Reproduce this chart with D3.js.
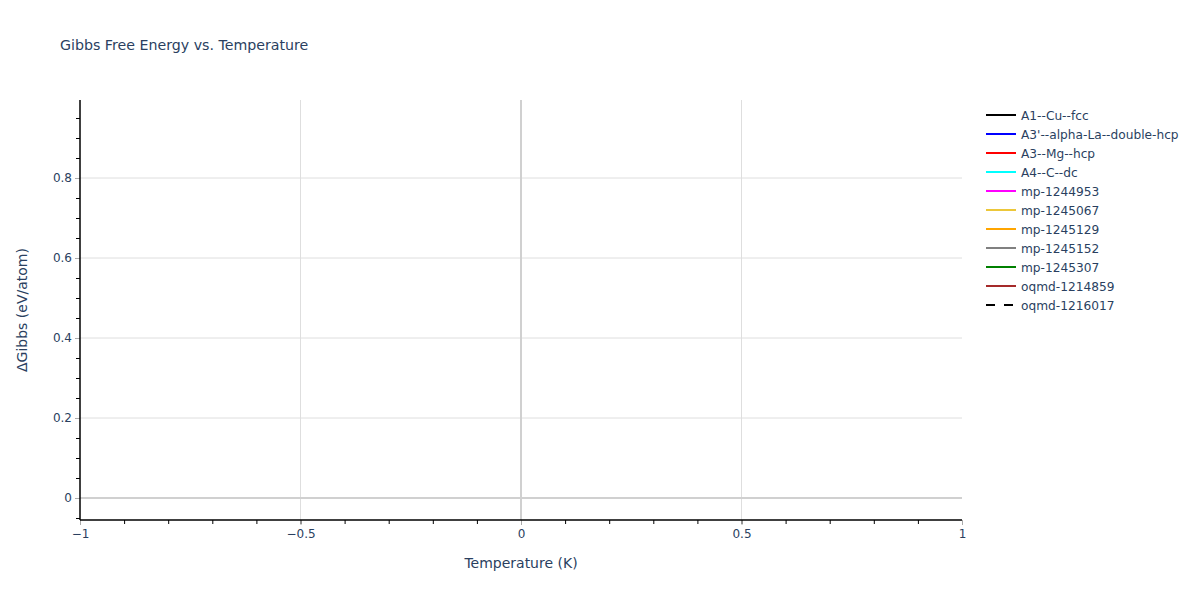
<!DOCTYPE html>
<html>
<head>
<meta charset="utf-8">
<script src="https://cdn.jsdelivr.net/npm/d3@7"></script>
<style>
  body { margin: 0; background: #fff; }
  text { font-family: "DejaVu Sans", Verdana, sans-serif; fill: #2a3f5f; }
</style>
</head>
<body>
<svg id="chart" width="1200" height="600"></svg>
<script>
// series shown in the legend (no points plotted in the reference)
var seriesNames = ["A1--Cu--fcc", "A3'--alpha-La--double-hcp", "A3--Mg--hcp", "A4--C--dc",
	"mp-1244953", "mp-1245067", "mp-1245129", "mp-1245152", "mp-1245307",
	"oqmd-1214859", "oqmd-1216017"];
var seriesColors = ["black", "blue", "red", "cyan", "magenta", "#ecc73a", "orange",
	"gray", "green", "brown", "black"];
var seriesDash = [null, null, null, null, null, null, null, null, null, null, "9,9"];
var temperature = [];
var gibbs = [[], [], [], [], [], [], [], [], [], [], []];
var xTicks = [-1, -0.5, 0, 0.5, 1];
var yTicks = [0, 0.2, 0.4, 0.6, 0.8];

var svg = d3.select("#chart"),
	margin = {left: 80, right: 238, top: 100, bottom: 80},
	width = 1200 - margin.left - margin.right,
	height = 600 - margin.top - margin.bottom;

var x = d3.scaleLinear().domain([-1, 1]).range([0, width]);
var y = d3.scaleLinear().domain([-0.055, 0.995]).range([height, 0]);

var g = svg.append("g").attr("transform", "translate(" + margin.left + "," + margin.top + ")");

// grid
g.selectAll(".xgrid").data(xTicks.filter(function (d) { return d !== 0 && d !== -1 && d !== 1; }))
	.enter().append("line")
	.attr("x1", function (d) { return x(d); }).attr("x2", function (d) { return x(d); })
	.attr("y1", 0).attr("y2", height)
	.attr("stroke", "#dedede").attr("stroke-width", 1);
g.selectAll(".ygrid").data(yTicks.filter(function (d) { return d !== 0; }))
	.enter().append("line")
	.attr("x1", 0).attr("x2", width)
	.attr("y1", function (d) { return y(d); }).attr("y2", function (d) { return y(d); })
	.attr("stroke", "#dedede").attr("stroke-width", 1);

// zero lines
g.append("line").attr("x1", x(0)).attr("x2", x(0)).attr("y1", 0).attr("y2", height)
	.attr("stroke", "#d0d0d0").attr("stroke-width", 2);
g.append("line").attr("x1", 0).attr("x2", width).attr("y1", y(0)).attr("y2", y(0))
	.attr("stroke", "#d0d0d0").attr("stroke-width", 2);

// series lines (empty data)
var line = d3.line()
	.x(function (d, i) { return x(temperature[i]); })
	.y(function (d) { return y(d); });
g.selectAll(".series").data(gibbs).enter().append("path")
	.attr("fill", "none")
	.attr("stroke", function (d, i) { return seriesColors[i]; })
	.attr("stroke-dasharray", function (d, i) { return seriesDash[i]; })
	.attr("stroke-width", 2)
	.attr("d", function (d) { return d.length ? line(d) : null; });

// x axis
var xAxis = g.append("g").attr("transform", "translate(0," + height + ")");
xAxis.call(d3.axisBottom(x).tickValues(d3.range(-1, 1.0001, 0.1)).tickSize(4).tickFormat(""))
	.call(function (a) { a.select(".domain").remove(); a.selectAll("line").attr("stroke", "#000"); });
xAxis.append("g").call(d3.axisBottom(x).tickValues(xTicks).tickSize(5).tickPadding(4)
	.tickFormat(function (d) { return d === 0 ? "0" : d3.format("")(d).replace("-", "\u2212"); }))
	.call(function (a) {
		a.select(".domain").remove();
		a.selectAll("line").attr("stroke", "#aaa");
		a.selectAll("text").attr("font-size", 12).attr("fill", "#2a3f5f")
			.attr("font-family", "DejaVu Sans, sans-serif");
	});
xAxis.append("line").attr("x1", 0).attr("x2", width).attr("stroke", "#000").attr("stroke-width", 1.5);

// y axis
var yAxis = g.append("g");
yAxis.call(d3.axisLeft(y).tickValues(d3.range(-0.05, 0.96, 0.05)).tickSize(4).tickFormat(""))
	.call(function (a) { a.select(".domain").remove(); a.selectAll("line").attr("stroke", "#000"); });
yAxis.append("g").call(d3.axisLeft(y).tickValues(yTicks).tickSize(5).tickPadding(3)
	.tickFormat(function (d) { return d === 0 ? "0" : d3.format(".1f")(d); }))
	.call(function (a) {
		a.select(".domain").remove();
		a.selectAll("line").attr("stroke", "#aaa");
		a.selectAll("text").attr("font-size", 12).attr("fill", "#2a3f5f")
			.attr("font-family", "DejaVu Sans, sans-serif");
	});
yAxis.append("line").attr("y1", 0).attr("y2", height).attr("stroke", "#000").attr("stroke-width", 1.5);

// titles
svg.append("text").attr("x", 60).attr("y", 50).attr("font-size", 14.2)
	.text("Gibbs Free Energy vs. Temperature");
svg.append("text").attr("x", margin.left + width / 2).attr("y", 568)
	.attr("text-anchor", "middle").attr("font-size", 14).text("Temperature (K)");
svg.append("text").attr("transform", "translate(27," + (margin.top + height / 2) + ") rotate(-90)")
	.attr("text-anchor", "middle").attr("font-size", 14).text("\u0394Gibbs (eV/atom)");

// legend
var legend = svg.append("g").attr("transform", "translate(986,115)");
var item = legend.selectAll(".item").data(seriesNames).enter().append("g")
	.attr("transform", function (d, i) { return "translate(0," + i * 19 + ")"; });
item.append("line").attr("x1", 0).attr("x2", 30)
	.attr("stroke", function (d, i) { return seriesColors[i]; })
	.attr("stroke-dasharray", function (d, i) { return seriesDash[i]; })
	.attr("stroke-width", 2);
item.append("text").attr("x", 35).attr("y", 4.5).attr("font-size", 12.2).text(function (d) { return d; });
</script>
</body>
</html>
